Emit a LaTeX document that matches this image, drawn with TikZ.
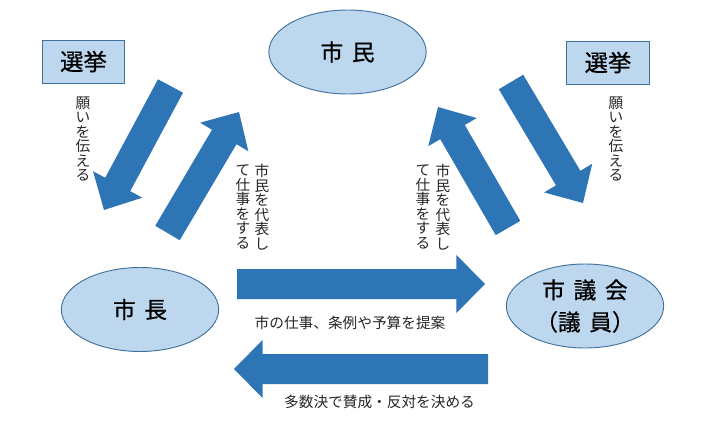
\documentclass[tikz,border=0pt]{standalone}
\usepackage{fontspec}
\setmainfont{Noto Sans CJK JP}
\newfontfamily\bigcjk[FakeBold=0.7]{Noto Sans CJK JP}
\usetikzlibrary{shapes.geometric,calc}
\definecolor{lightfill}{HTML}{BDD7EE}
\definecolor{edgeblue}{HTML}{41719C}
\definecolor{arrowblue}{HTML}{2E75B6}
\definecolor{txt}{HTML}{262626}
\newcommand{\blockarrow}[5]{%
  \coordinate (bab) at ($(#2)!#5!(#1)$);
  \fill[arrowblue] ($(#1)!#3!90:(#2)$) -- ($(bab)!#3!90:(#2)$) -- ($(bab)!#4!90:(#2)$) -- (#2)
    -- ($(bab)!#4!-90:(#2)$) -- ($(bab)!#3!-90:(#2)$) -- ($(#1)!#3!-90:(#2)$) -- cycle;
}
\tikzset{
  actor/.style={ellipse, draw=edgeblue, line width=0.7pt, fill=lightfill,
    minimum width=118pt, minimum height=63pt, inner sep=0pt, align=center,
    text=black, font=\bigcjk\fontsize{17}{24}\selectfont},
  votebox/.style={rectangle, draw=edgeblue, line width=0.7pt, fill=lightfill,
    minimum width=62pt, minimum height=32.25pt, inner sep=0pt,
    text=black, font=\bigcjk\fontsize{17.5}{20}\selectfont},
  vtext/.style={align=center, inner sep=0pt, text=txt,
    font=\fontsize{11}{10.9}\selectfont},
  htext/.style={inner sep=0pt, text=txt, font=\fontsize{11}{13}\selectfont},
}
\newcommand{\gap}{\hspace{6.5pt}}
\lineskiplimit=-8pt
\begin{document}
\begin{tikzpicture}[x=0.75pt,y=-0.75pt]
\useasboundingbox (0,0) rectangle (722,429);
% nodes
\node[actor] (shimin) at (347.5,52) {市\gap 民};
\node[actor] (shicho) at (140,309.5) {市\gap 長};
\node[actor] (gikai) at (585,306) {市\gap 議\gap 会\\（議\gap 員）};
\node[votebox] (senkyoL) at (83.5,61.5) {選挙};
\node[votebox] (senkyoR) at (608,62.5) {選挙};
% arrow end points
\coordinate (aLdT) at (170.5,86);
\coordinate (aLdH) at (104,210);
\coordinate (aLuT) at (167.5,233);
\coordinate (aLuH) at (239,112);
\coordinate (aRuT) at (508,228);
\coordinate (aRuH) at (438,107);
\coordinate (aRdT) at (511,82);
\coordinate (aRdH) at (583,203);
\coordinate (aHrT) at (237,284);
\coordinate (aHrH) at (485,284);
\coordinate (aHlT) at (488,369);
\coordinate (aHlH) at (234,369);
% arrows
\blockarrow{aLdT}{aLdH}{10.65pt}{21pt}{21.75pt}
\blockarrow{aLuT}{aLuH}{10.65pt}{21pt}{21.75pt}
\blockarrow{aRuT}{aRuH}{10.65pt}{21pt}{21.75pt}
\blockarrow{aRdT}{aRdH}{10.65pt}{21pt}{21.75pt}
\blockarrow{aHrT}{aHrH}{11.25pt}{21.75pt}{21.4pt}
\blockarrow{aHlT}{aHlH}{11.25pt}{21.75pt}{21.4pt}
% labels
\node[vtext] (negaiL) at (83,139) {願\\い\\を\\伝\\え\\る};
\node[vtext] (negaiR) at (616,139) {願\\い\\を\\伝\\え\\る};
\node[vtext] (daihyoL1) at (262,207) {市\\民\\を\\代\\表\\し};
\node[vtext] (daihyoL2) at (243,207) {て\\仕\\事\\を\\す\\る};
\node[vtext] (daihyoR1) at (443,207) {市\\民\\を\\代\\表\\し};
\node[vtext] (daihyoR2) at (423,207) {て\\仕\\事\\を\\す\\る};
\node[htext] (teian) at (350,323) {市の仕事、条例や予算を提案};
\node[htext] (giketsu) at (379.5,402) {多数決で賛成・反対を決める};
\end{tikzpicture}
\end{document}
